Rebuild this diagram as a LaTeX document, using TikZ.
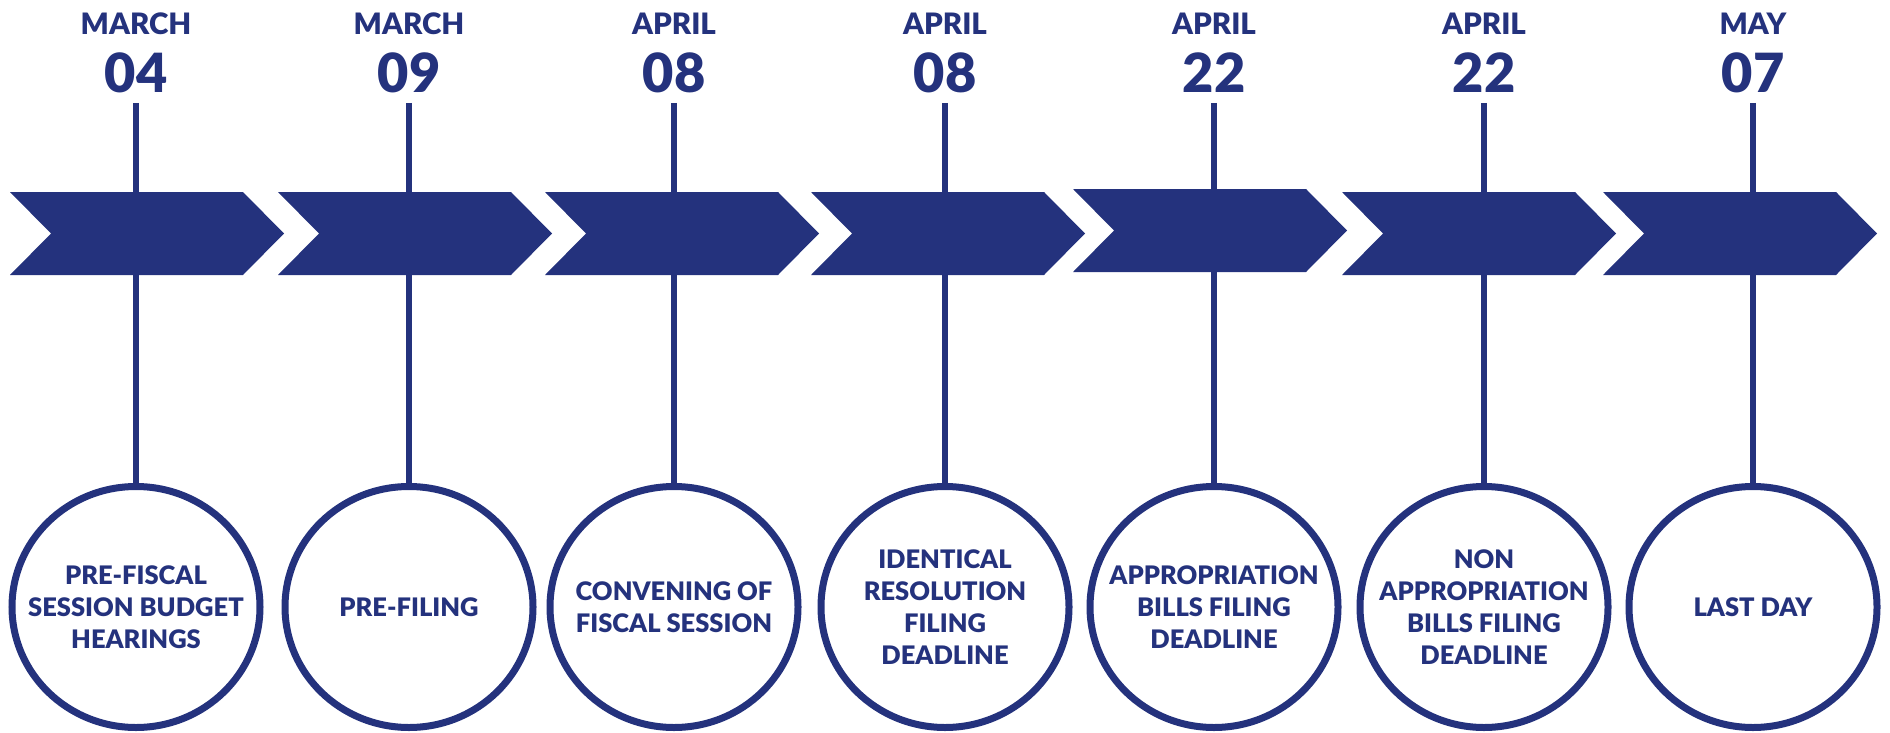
\documentclass[tikz,border=0pt]{standalone}
\usepackage{fontspec}
\setmainfont{Lato}[BoldFont={Lato Black}]
\usepackage{tikz}
\usetikzlibrary{positioning,shapes.geometric}
\definecolor{navy}{HTML}{24327D}

\tikzset{
    month/.style={anchor=base,text=navy,font=\fontsize{29.5}{32}\selectfont\bfseries},
    day/.style={anchor=base,text=navy,font=\fontsize{54}{56}\selectfont\bfseries},
    event/.style={draw=navy,line width=7pt,ellipse,minimum width=248pt,minimum height=241pt,inner sep=0pt,fill=white},
    eventtext/.style={text=navy,align=center,font=\fontsize{25.5}{32}\selectfont\bfseries},
    stem/.style={draw=navy,line width=6pt}
}

\newcommand{\chevron}[2]{
    \pgfmathsetmacro{\x}{#1}
    \pgfmathsetmacro{\y}{#2}
    \fill[navy] (\x,\y) -- (\x+233,\y) -- (\x+274,\y+41.5) -- (\x+233,\y+83)
    -- (\x,\y+83) -- (\x+41,\y+41.5) -- cycle;
}
\newcommand{\stage}[5]{
    \node[month] (#1m) at (#2,35) {#3};
    \node[day] (#1d) at (#2,93) {#4};
    \node[event] (#1c) at (#2,607) {};
    \node[eventtext] (#1t) at (#1c) {#5};
    \draw[stem] ([yshift=-10pt]#1d.base) -- (#1c.north);
}

\begin{document}
\begin{tikzpicture}[x=1pt,y=-1pt]
        \useasboundingbox (0,0) rectangle (1890,733);

        \stage{prefiscal}{136}{MARCH}{04}{PRE-FISCAL\\SESSION BUDGET\\HEARINGS};
        \stage{prefiling}{409}{MARCH}{09}{PRE-FILING};
        \stage{convening}{674}{APRIL}{08}{CONVENING OF\\FISCAL SESSION};
        \stage{identical}{945}{APRIL}{08}{IDENTICAL\\RESOLUTION\\FILING\\DEADLINE};
        \stage{approp}{1214}{APRIL}{22}{APPROPRIATION\\BILLS FILING\\DEADLINE};
        \stage{nonapprop}{1484}{APRIL}{22}{NON\\APPROPRIATION\\BILLS FILING\\DEADLINE};
        \stage{lastday}{1753}{MAY}{07}{LAST DAY};

        \chevron{10}{192};
        \chevron{278}{192};
        \chevron{545}{192};
        \chevron{811}{192};
        \chevron{1073}{189};
        \chevron{1342}{192};
        \chevron{1603}{192};
\end{tikzpicture}
\end{document}
